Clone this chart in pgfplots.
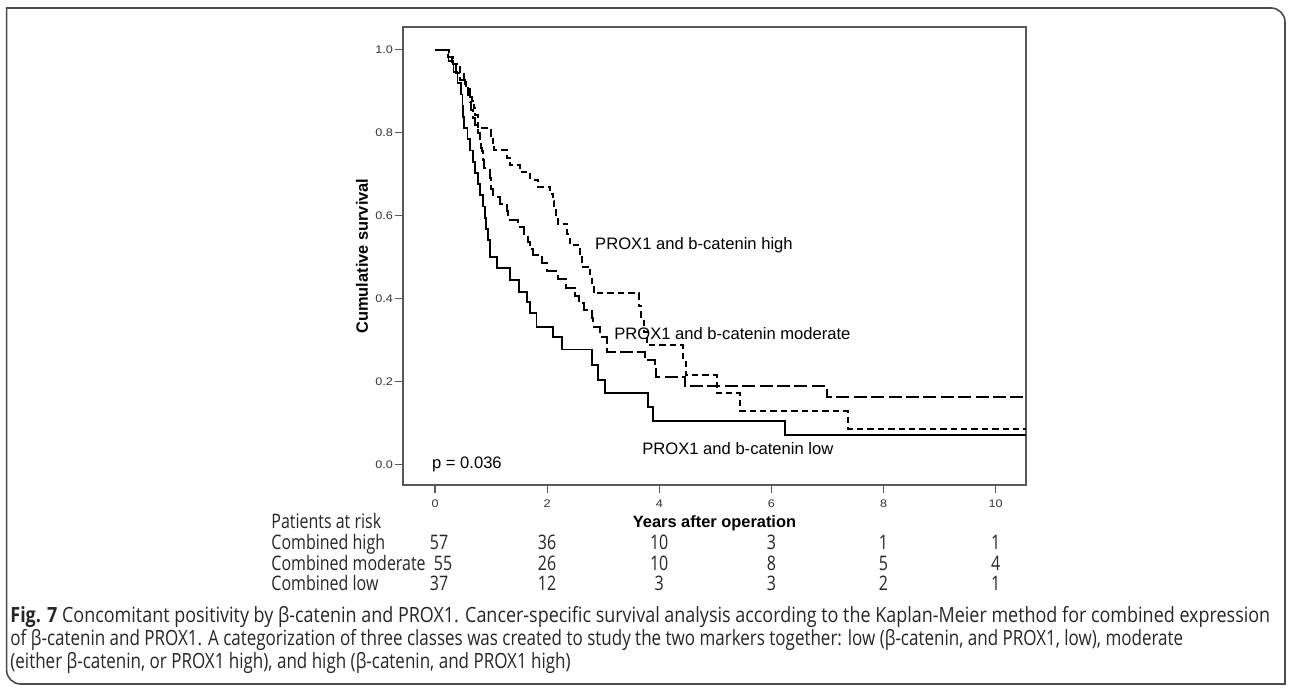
\documentclass[border=0pt]{standalone}
\usepackage{pgfplots}
\pgfplotsset{compat=1.18}
\usepackage{fontspec}
\setmainfont{Liberation Sans}
\newfontfamily\capfontA[FakeStretch=0.855]{Open Sans}
\newfontfamily\capfontB[FakeStretch=0.81]{Open Sans}
\newfontfamily\riskfont[FakeStretch=0.8]{Open Sans}
\newfontfamily\tickfont[FakeStretch=1.15]{Liberation Sans}

\begin{document}
\begin{tikzpicture}[x=1pt,y=1pt]
% page = 1290 x 689 px, 1 px = 0.5 pt
\path[use as bounding box] (0,0) rectangle (645,344.5);

\begin{axis}[
  at={(201.5pt,102pt)}, anchor=south west,
  scale only axis, width=311.5pt, height=229pt,
  xmin=-0.571, xmax=10.54, ymin=-0.05, ymax=1.055,
  xtick={0,2,...,10}, ytick={0,0.2,0.4,0.6,0.8,1.0},
  tick pos=left, tick align=outside, major tick length=4pt,
  axis line style={black!65, line width=0.75pt},
  every tick/.style={black!65, line width=0.6pt},
  tick label style={font=\tickfont\fontsize{5.5}{6}\selectfont, text=black!80},
  /pgf/number format/assume math mode=true,
  yticklabel style={xshift=2.5pt, /pgf/number format/fixed, /pgf/number format/fixed zerofill,
    /pgf/number format/precision=1},
  xlabel={Years after operation}, ylabel={Cumulative survival},
  every axis x label/.style={at={(axis description cs:0.5,-0.083)}, anchor=center,
    font=\bfseries\fontsize{8.2}{10}\selectfont},
  every axis y label/.style={at={(axis description cs:-0.066,0.5)}, rotate=90, anchor=center,
    font=\bfseries\fontsize{8.2}{10}\selectfont},
  clip=false,
]

% combined low
\addplot[const plot, black, line width=0.95pt] coordinates {
  (0,1.000) (0.24,0.973) (0.33,0.946) (0.40,0.919) (0.47,0.892) (0.49,0.865)
  (0.50,0.838) (0.52,0.811) (0.58,0.784) (0.62,0.757) (0.68,0.730) (0.72,0.703)
  (0.76,0.676) (0.80,0.649) (0.85,0.622) (0.89,0.595) (0.91,0.568) (0.94,0.541)
  (0.98,0.501) (1.10,0.473) (1.33,0.444) (1.49,0.416) (1.64,0.392) (1.70,0.364)
  (1.81,0.332) (2.11,0.306) (2.26,0.277) (2.80,0.239) (2.91,0.203) (3.03,0.172)
  (3.80,0.138) (3.89,0.104) (6.24,0.070) (10.54,0.070)
};

% combined moderate
\addplot[const plot, black, line width=1pt, dash pattern=on 6.5pt off 2.2pt] coordinates {
  (0,1.000) (0.24,0.982) (0.30,0.964) (0.38,0.945) (0.45,0.927) (0.53,0.909)
  (0.58,0.891) (0.62,0.873) (0.65,0.855) (0.68,0.836) (0.71,0.818) (0.76,0.800)
  (0.80,0.782) (0.82,0.764) (0.84,0.755) (0.86,0.735) (0.88,0.714) (0.98,0.690)
  (1.00,0.664) (1.04,0.646) (1.16,0.628) (1.28,0.610) (1.30,0.590) (1.48,0.572)
  (1.58,0.555) (1.65,0.537) (1.70,0.519) (1.74,0.505) (1.90,0.485) (1.99,0.466)
  (2.19,0.446) (2.34,0.426) (2.50,0.406) (2.56,0.390) (2.65,0.372) (2.80,0.352)
  (2.82,0.332) (2.94,0.308) (3.06,0.271) (3.74,0.252) (3.92,0.232) (3.94,0.211)
  (4.46,0.188) (6.99,0.163) (10.54,0.163)
};

% combined high
\addplot[const plot, black, line width=1pt, dash pattern=on 3.2pt off 2pt] coordinates {
  (0,1.000) (0.25,0.982) (0.32,0.965) (0.45,0.947) (0.52,0.930) (0.56,0.912)
  (0.62,0.895) (0.66,0.877) (0.70,0.860) (0.72,0.842) (0.76,0.811) (0.99,0.793)
  (1.03,0.775) (1.06,0.758) (1.28,0.740) (1.34,0.722) (1.52,0.705) (1.70,0.687)
  (1.84,0.670) (2.05,0.652) (2.10,0.634) (2.13,0.616) (2.16,0.598) (2.20,0.580)
  (2.36,0.555) (2.40,0.530) (2.58,0.505) (2.62,0.477) (2.77,0.452) (2.80,0.432)
  (2.83,0.412) (3.63,0.381) (3.68,0.350) (3.72,0.318) (3.78,0.287) (4.43,0.251)
  (4.47,0.215) (5.02,0.171) (5.44,0.128) (7.37,0.086) (10.54,0.086)
};

\begin{scope}[every node/.style={inner sep=0pt, anchor=west, font=\fontsize{8.3}{10}\selectfont}]
\node at (axis cs:2.85,0.529) {PROX1 and b-catenin high};
\node at (axis cs:3.19,0.316) {PROX1 and b-catenin moderate};
\node at (axis cs:3.69,0.038) {PROX1 and b-catenin low};
\node at (axis cs:-0.06,0.0) {p = 0.036};
\end{scope}
\end{axis}

% patients at risk table
\begin{scope}[every node/.style={inner sep=0pt, font=\riskfont\fontsize{10}{12}\selectfont, text=black!85}]
\node[anchor=base west] at (135.5,80.1) {Patients at risk};
\node[anchor=base west] at (135.5,69.6) {Combined high};
\node[anchor=base west] at (135.5,59.1) {Combined moderate};
\node[anchor=base west] at (135.5,49.1) {Combined low};
\foreach \x/\a/\c in {219.5/57/37, 273.55/36/12, 329.6/10/3,
                      385.7/3/3, 441.75/1/2, 497.8/1/1}{
  \node[anchor=base] at (\x,69.6) {\a};
  \node[anchor=base] at (\x,49.1) {\c};
}
\foreach \x/\b in {221.5/55, 273.55/26, 329.6/10, 385.7/8, 441.75/5, 497.8/4}{
  \node[anchor=base] at (\x,59.1) {\b};
}
\end{scope}

% caption
\begin{scope}[every node/.style={inner sep=0pt, anchor=base west, text=black!85}]
\node[font=\capfontA\fontsize{10.5}{12}\selectfont] at (5,33.25) {\textbf{Fig. 7} Concomitant positivity by β-catenin and PROX1. Cancer-specific survival analysis according to the Kaplan-Meier method for combined expression};
\node[font=\capfontB\fontsize{10.5}{12}\selectfont] at (5,21.75) {of β-catenin and PROX1. A categorization of three classes was created to study the two markers together: low (β-catenin, and PROX1, low), moderate};
\node[font=\capfontB\fontsize{10.5}{12}\selectfont] at (5,10.25) {(either β-catenin, or PROX1 high), and high (β-catenin, and PROX1 high)};
\end{scope}

% figure frame
\draw[black!70, line width=0.8pt] (3.3,340.5) -- (635.5,340.5)
  arc[start angle=90, end angle=0, radius=7] -- (642.5,2.5) -- (10.3,2.5)
  arc[start angle=270, end angle=180, radius=7] -- cycle;
\end{tikzpicture}
\end{document}
